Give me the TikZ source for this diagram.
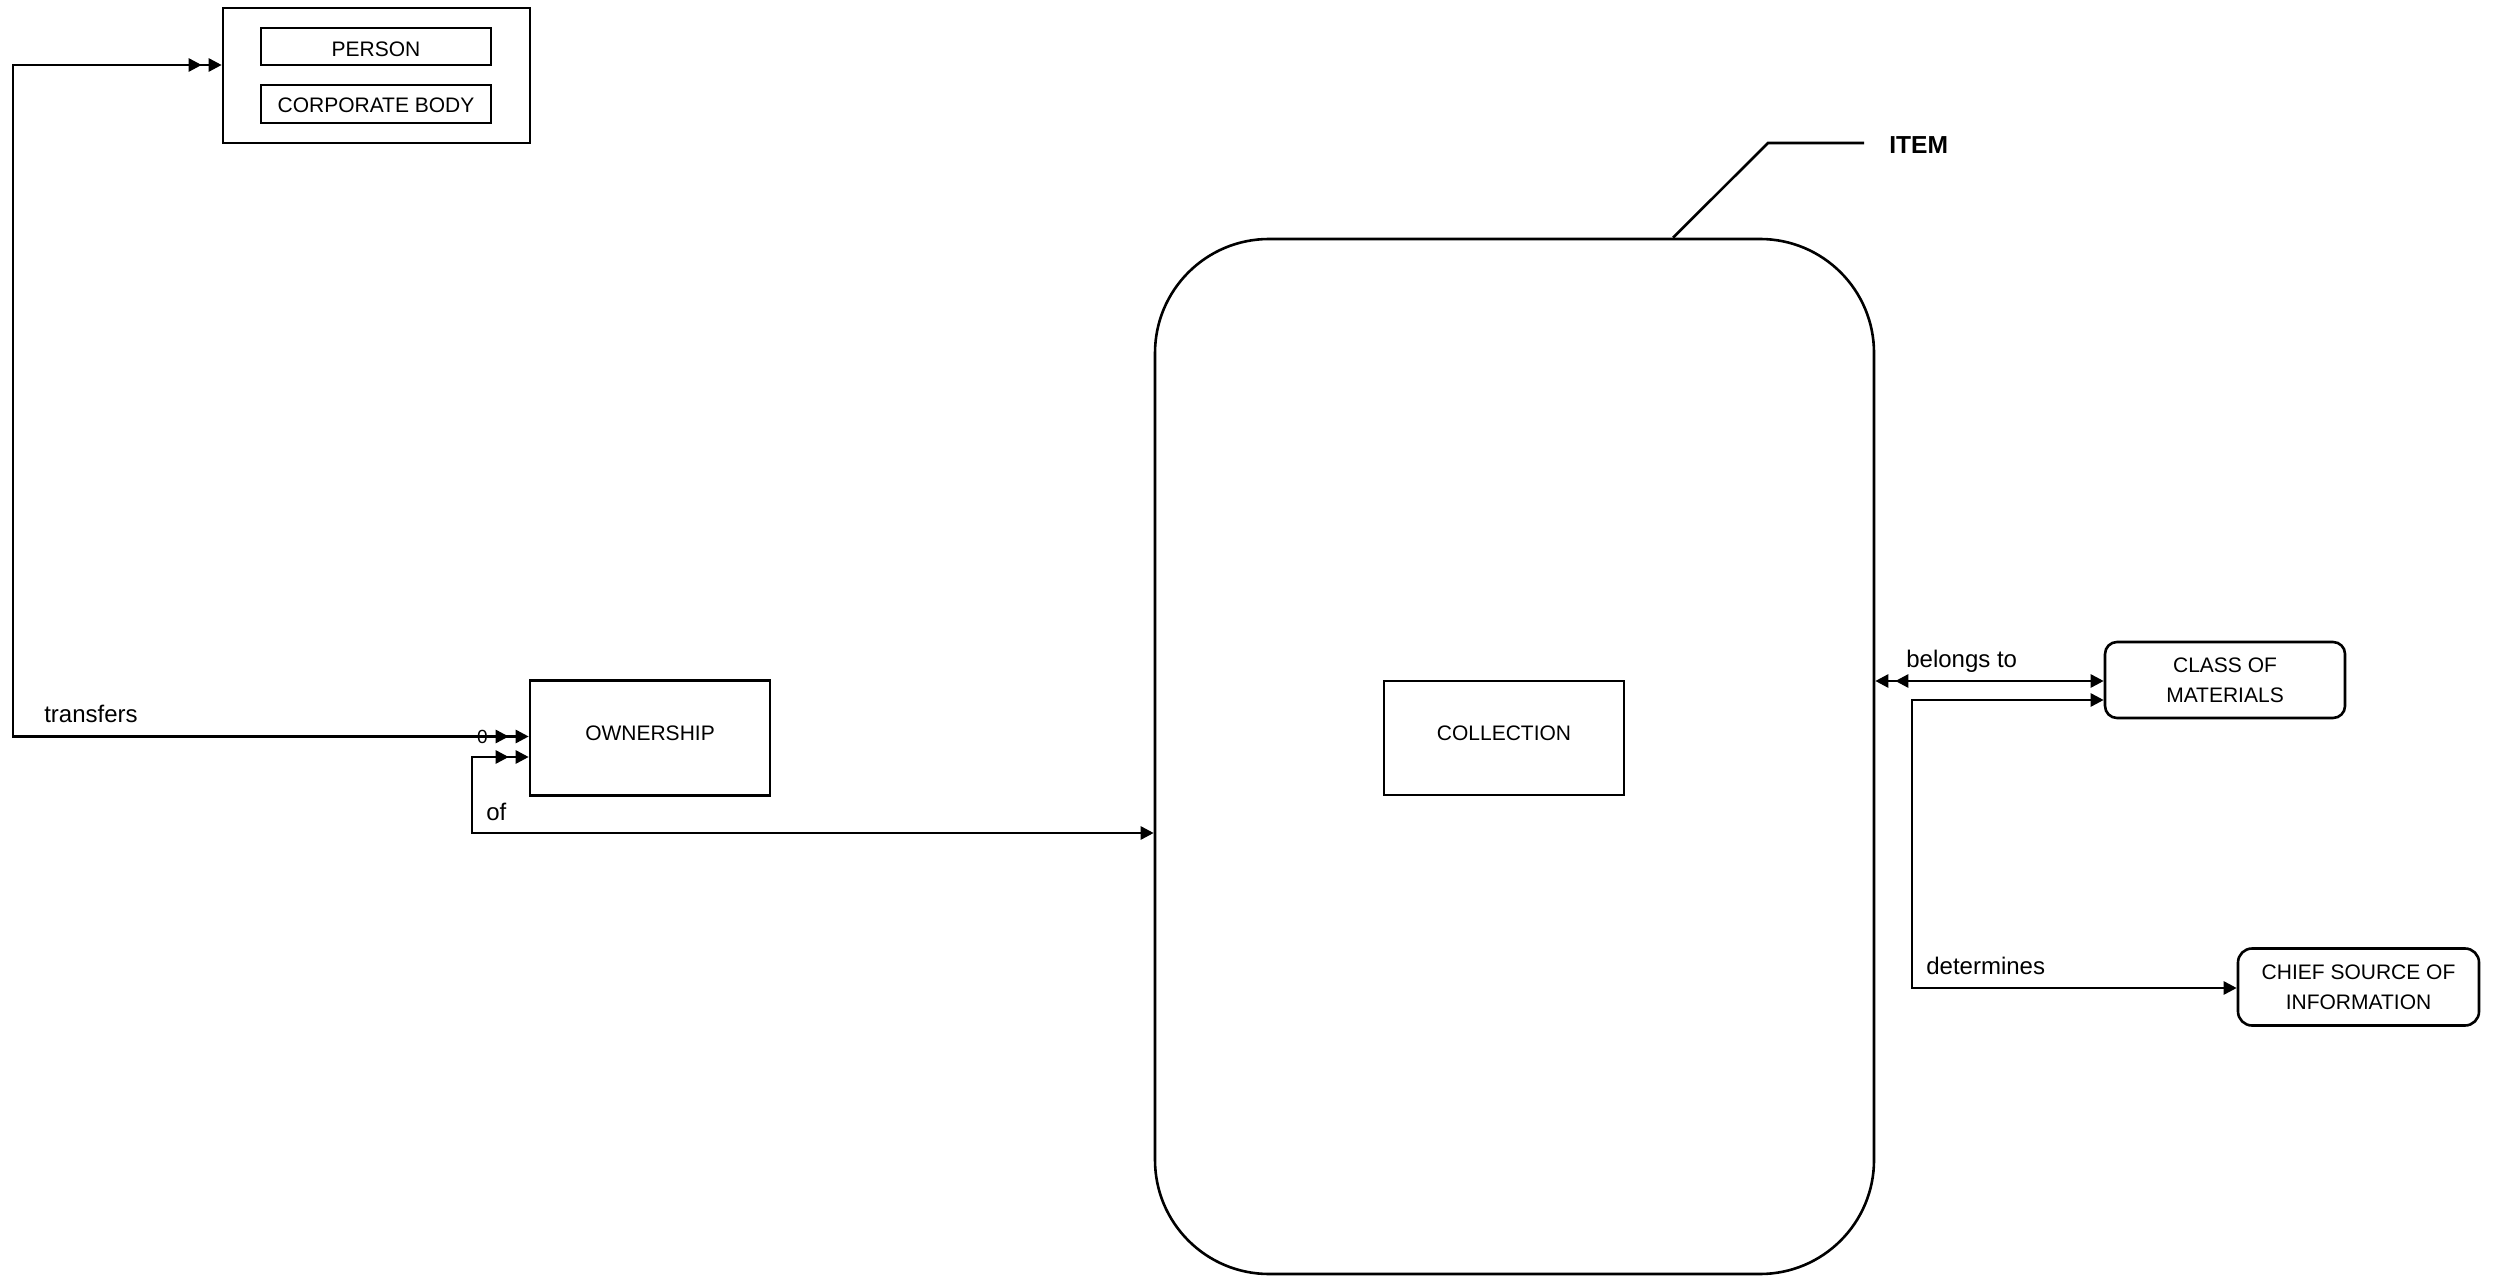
\documentclass[tikz,border=0pt]{standalone}
\usepackage{fontspec}
\setmainfont{Liberation Sans}
\usetikzlibrary{arrows.meta}
\newcommand\upby[2]{\raisebox{#1}[\height][\depth]{#2}}
\begin{document}
\begin{tikzpicture}[x=0.5pt,y=-0.5pt, line width=1.3pt,
  box/.style={draw, inner sep=0pt, align=center, font=\fontsize{10.5}{15}\selectfont},
  lbl/.style={inner sep=0pt, font=\fontsize{12}{14}\selectfont, anchor=base west},
  tri/.tip={Triangle[length=6.5pt,width=6.5pt]},
  dtri/.tip={Triangle[length=6.5pt,width=6.5pt,sep=3.5pt]Triangle[length=6.5pt,width=6.5pt]}]
\useasboundingbox (0,0) rectangle (2494,1277);
% nodes
\node[box, minimum width=153.5pt, minimum height=67.5pt] (grp) at (376.5,75.5) {};
\node[box, minimum width=115pt, minimum height=18.5pt] (person) at (376,46.5) {\upby{-1.2pt}{PERSON}};
\node[box, minimum width=115pt, minimum height=19pt] (corp) at (376,104) {\upby{-0.7pt}{CORPORATE BODY}};
\node[box, minimum width=120pt, minimum height=57.5pt] (own) at (650,738) {\upby{2.5pt}{OWNERSHIP}};
\node[box, minimum width=359.5pt, minimum height=517.5pt, rounded corners=57pt] (item) at (1514.5,756.5) {};
\node[box, minimum width=120pt, minimum height=57pt] (coll) at (1504,738) {\upby{2.5pt}{COLLECTION}};
\node[box, rounded corners=6pt, minimum width=120pt, minimum height=38pt] (cls) at (2225,680) {CLASS OF\\MATERIALS};
\node[box, rounded corners=7pt, minimum width=120.5pt, minimum height=38.5pt] (chief) at (2358.5,987) {CHIEF SOURCE OF\\INFORMATION};
% labels
\node[lbl] (ltr) at (43,723) {transfers};
\node[lbl] (lof) at (485,820) {of};
\node[lbl] (lbel) at (1905,668) {belongs to};
\node[lbl] (ldet) at (1925,974) {determines};
\node[inner sep=0pt, font=\fontsize{9.5}{11}\selectfont] (lzero) at (482.5,736.5) {0};
\node[inner sep=0pt, anchor=base west, font=\bfseries\fontsize{12.3}{14}\selectfont] (itemlbl) at (1888,154) {ITEM};
% coordinates
\coordinate (t1) at (13,65);
\coordinate (t2) at (13,736.5);
\coordinate (o1) at (472,757);
\coordinate (o2) at (472,833);
\coordinate (b1) at (1990,681);
\coordinate (d1) at (1912,700);
\coordinate (d2) at (1912,988);
\coordinate (i1) at (1673,500);
\coordinate (i2) at (1768,143);
\coordinate (i3) at (1864,143);
% connectors
\draw[{dtri}-{dtri}] (t1 -| grp.west) -- (t1) -- (t2) -- (t2 -| own.west);
\draw[{dtri}-{tri}] (o1 -| own.west) -- (o1) -- (o2) -- (o2 -| item.west);
\draw[{dtri}-{tri}] (b1 -| item.east) -- (b1 -| cls.west);
\draw[{tri}-{tri}] (d1 -| cls.west) -- (d1) -- (d2) -- (d2 -| chief.west);
\draw (i1 |- item.north) -- (i2) -- (i3);
\end{tikzpicture}
\end{document}
